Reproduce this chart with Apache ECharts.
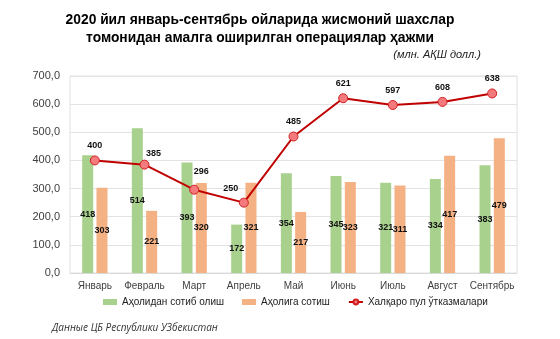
<!DOCTYPE html>
<html><head><meta charset="utf-8">
<script src="https://cdn.jsdelivr.net/npm/echarts@6/dist/echarts.min.js"></script>
<style>html,body{margin:0;padding:0;background:#fff}#c{width:560px;height:339px}</style>
</head><body><div id="c"></div>
<script>
const categories = ['Январь','Февраль','Март','Апрель','Май','Июнь','Июль','Август','Сентябрь'];
const buyFromPopulation = [418,514,393,172,354,345,321,334,383];
const sellToPopulation = [303,221,320,321,217,323,311,417,479];
const transfers = [400,385,296,250,485,621,597,608,638];
const seriesNames = ['Аҳолидан сотиб олиш','Аҳолига сотиш','Халқаро пул ўтказмалари'];
const yTicks = [0,100,200,300,400,500,600,700];
// label offsets for the line labels (styling)
const lineLabelOffsets = [[0,0],[9,3],[7,-4],[-13,0],[0,0],[0,0],[0,0],[0,0],[0,0]];

const chart = echarts.init(document.getElementById('c'));
const font = 'Liberation Sans, Arial, sans-serif';
chart.setOption({
  animation:false,
  textStyle:{fontFamily:font},
  title:[
    {text:'2020 йил январь-сентябрь ойларида жисмоний шахслар\nтомонидан амалга оширилган операциялар ҳажми',
     left:255, top:6, textAlign:'center',
     textStyle:{fontSize:13.8,fontWeight:'bold',color:'#000',lineHeight:18,fontFamily:font}},
    {text:'(млн. АҚШ долл.)', right:74, top:44,
     textStyle:{fontSize:11,fontStyle:'italic',fontWeight:'normal',color:'#222',fontFamily:font}},
    {text:'Данные ЦБ Республики УЗбекистан', left:47, top:318,
     textStyle:{fontSize:10,fontStyle:'italic',fontWeight:'normal',color:'#333',fontFamily:'Open Sans, sans-serif'}}
  ],
  grid:{left:70,right:43,top:76,bottom:66,show:true,borderColor:'#e0e0e0',borderWidth:1},
  legend:{top:292,left:98,itemGap:18,itemWidth:14,itemHeight:6,
    textStyle:{fontSize:10,color:'#222'},
    data:[{name:seriesNames[0],icon:'rect'},{name:seriesNames[1],icon:'rect'},{name:seriesNames[2]}]},
  xAxis:{type:'category',data:categories,
    axisLine:{lineStyle:{color:'#d9d9d9'}},axisTick:{show:false},
    axisLabel:{fontSize:10,color:'#404040',margin:8,interval:0}},
  yAxis:{type:'value',min:yTicks[0],max:yTicks[yTicks.length-1],interval:100,
    axisLabel:{fontSize:11,color:'#404040',margin:10,formatter:v=>v.toFixed(1).replace('.',',')},
    splitLine:{lineStyle:{color:'#e3e3e3'}},axisLine:{show:false},axisTick:{show:false}},
  series:[
    {name:seriesNames[0],type:'bar',data:buyFromPopulation,barWidth:11,barGap:'30%',
     itemStyle:{color:'#A9D18E'},
     label:{show:true,position:'inside',fontSize:9,fontWeight:'bold',color:'#111'}},
    {name:seriesNames[1],type:'bar',data:sellToPopulation,barWidth:11,barGap:'30%',
     itemStyle:{color:'#F4B183'},
     label:{show:true,position:'inside',fontSize:9,fontWeight:'bold',color:'#111'}},
    {name:seriesNames[2],type:'line',z:5,
     data:transfers.map((v,i)=>({value:v,label:{offset:lineLabelOffsets[i]}})),
     lineStyle:{color:'#C00000',width:2},
     itemStyle:{color:'#F47A7E',borderColor:'#D02020',borderWidth:1},
     symbol:'circle',symbolSize:9,
     label:{show:true,position:'top',distance:5,fontSize:9,fontWeight:'bold',color:'#111'}}
  ]
});
</script></body></html>
